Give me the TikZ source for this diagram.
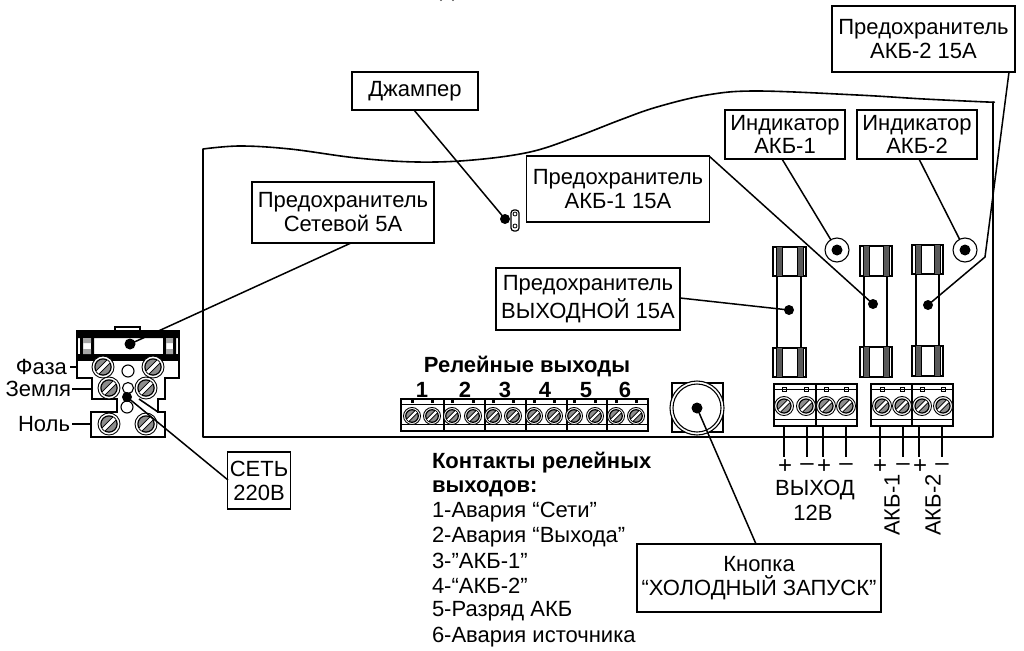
\documentclass[tikz,border=0pt]{standalone}
\usepackage{fontspec}
\setmainfont{Liberation Sans}
\usetikzlibrary{calc}
\newcommand{\fz}[1]{\fontsize{#1}{#1}\selectfont}
\tikzset{
  x=1pt,y=-1pt,
  every node/.style={inner sep=0pt,outer sep=0pt},
  lbl/.style={draw=black,fill=white,line width=1.6pt,align=center,font=\fz{22}},
  txt/.style={font=\fz{22},align=center},
  txtb/.style={font=\bfseries\fz{22}},
  leader/.style={draw=black,line width=1.5pt},
  wire/.style={draw=black,line width=1.5pt},
  outline/.style={draw=black,line width=1.6pt},
  thin1/.style={draw=black,line width=1pt},
  dotn/.style={circle,fill=black,minimum size=#1},
  dotn/.default=11pt,
}
\newcommand{\myscrew}[4][45]{%
  \begin{scope}[shift={(#2,#3)},rotate=#1]
    \draw[line width=.9pt,fill=white] (0,0) circle ({#4});
    \draw[line width=1.2pt,fill=black!45] (0,0) circle ({#4*.74});
    \fill[white] (-#4*.7,-#4*.16) rectangle (#4*.7,#4*.16);
    \draw[line width=.7pt] (-#4*.7,-#4*.2) -- (#4*.7,-#4*.2) (-#4*.7,#4*.2) -- (#4*.7,#4*.2);
  \end{scope}}
\newcommand{\myterm}[4]{% x1 x2 y1 y2
  \draw[outline] (#1,#3) rectangle (#2,#4);
  \draw[thin1] (#1,#3+5) -- (#2,#3+5) (#1,#4-7) -- (#2,#4-7);}
\newcommand{\mycap}[4]{% x1 x2 y1 y2
  \draw[line width=1.4pt] (#1,#3) rectangle (#2,#4);
  \fill[black!65] (#1+3,#3) rectangle (#1+9,#4);
  \fill[black!65] (#2-9,#3) rectangle (#2-3,#4);
  \draw[line width=1pt] (#1+9,#3) -- (#1+9,#4) (#2-9,#3) -- (#2-9,#4) (#1+3,#3) -- (#1+3,#4) (#2-3,#3) -- (#2-3,#4);}
\begin{document}
\begin{tikzpicture}
\useasboundingbox (0,0) rectangle (1024,650);
\fill[white] (0,0) rectangle (1024,650);
\fill[black!70] (441,0) circle (1.2) (453,0) circle (1.2);
% board
\draw[outline,line join=round] (203,437) -- (203,149)
  -- plot[smooth,tension=.6] coordinates {(203,149) (240,146) (290,149) (357,158) (417,162) (473,160) (530,152) (576,137) (620,120) (657,107) (707,95) (757,91) (857,95) (924,99) (987,102) (993,102)}
  -- (993,437) -- cycle;
% fuses
\foreach \xa/\xb/\ba/\bb/\ya/\yb/\yc/\yd in {773/806/777/801/247/276/348/377, 860/892/864/887/246/276/347/377, 912/943/916/939/245/274/346/376}{
  \draw[line width=1.3pt] (\ba,\yb) -- (\ba,\yc) (\bb,\yb) -- (\bb,\yc);
  \mycap{\xa}{\xb}{\ya}{\yb}
  \mycap{\xa}{\xb}{\yc}{\yd}
}
% LEDs
\node[circle,draw=black,line width=1.1pt,minimum size=24pt] (led1) at (837,250) {};
\node[dotn=11pt] (led1c) at (837,250) {};
\node[circle,draw=black,line width=1.1pt,minimum size=24pt] (led2) at (965,250) {};
\node[dotn=11pt] (led2c) at (965,250) {};
% fuse dots
\node[dotn=10pt] (fa) at (789,310) {};
\node[dotn=10pt] (fb) at (873,304) {};
\node[dotn=10pt] (fc) at (928,305) {};
% output wires
\foreach \n/\x in {w1/784,w2/807,w3/823,w4/846,w5/880,w6/903,w7/919,w8/942}{
  \coordinate (\n a) at (\x,426); \coordinate (\n b) at (\x,457);
  \draw[wire] (\n a) -- (\n b);
}
% terminal blocks
\myterm{774}{816}{384}{426}\myterm{816}{857}{384}{426}
\myterm{871}{912}{384}{426}\myterm{912}{953}{384}{426}
\foreach \x in {784,806,826,846,882,902,922,943}{
  \myscrew{\x}{406}{9.5}
  \draw[line width=.8pt] (\x-2,387) rectangle (\x+2,391);
}
% relay block
\myterm{401}{444}{399}{431}\myterm{444}{485}{399}{431}\myterm{485}{526}{399}{431}
\myterm{526}{567}{399}{431}\myterm{567}{607}{399}{431}\myterm{607}{648}{399}{431}
\foreach \x in {412,432,452,473,493,513,534,554,574,595,616,636}{
  \myscrew{\x}{416}{8.5}
  \fill[black] (\x-1.5,399) rectangle (\x+1.5,403);
}
\foreach \x/\n in {422/1,465/2,505/3,545/4,586/5,625/6}{
  \node[txtb] (num\n) at (\x,390) {\n};
}
\node[txtb] (reltitle) at (527,367) {Релейные выходы};
% button
\draw[line width=1.2pt] (672,383) rectangle (723,432);
\draw[line width=1.1pt,fill=white] (697,408) circle (27);
\draw[line width=1.1pt] (697,408) circle (24);
\node[dotn=11pt] (btn) at (697,408) {};
% jumper
\draw[line width=1.2pt,rounded corners=3pt,fill=white] (511,210) rectangle (519,231);
\draw[line width=.8pt] (515,214) circle (2) (515,226) circle (2);
\node[dotn=10pt] (jmp) at (505,219) {};
% mains connector
\draw[outline,fill=white] (77,360) -- (77,378) -- (92,378) -- (92,399) -- (117,399) -- (117,412) -- (91,412) -- (91,437) -- (165,437) -- (165,412) -- (158,412) -- (158,399) -- (165,399) -- (165,378) -- (179,378) -- (179,360) -- cycle;
\draw[outline] (139,399) -- (158,412);
\draw[outline,fill=white] (115,331) -- (115,327) -- (140,327) -- (140,331);
\draw[outline,fill=white] (77,331) rectangle (179,360);
\fill[black] (77,331) rectangle (179,338) (77,354) rectangle (179,360);
\fill[black] (80,331) rectangle (83,360) (173,331) rectangle (176,360) (91,331) rectangle (94,360) (163,331) rectangle (166,360);
\fill[black!35] (83,338) rectangle (91,343) (83,349) rectangle (91,354) (166,338) rectangle (173,343) (166,349) rectangle (173,354);
\myscrew{103}{367}{11}\myscrew{153}{367}{11}
\myscrew{109}{388}{11}\myscrew{146}{388}{11}
\myscrew{109}{424}{11}\myscrew{146}{424}{11}
\draw[line width=1.1pt,fill=white] (128,371) circle (6) (128,388) circle (5.5) (127,407) circle (6);
\node[dotn=10pt] (netdot) at (127,397) {};
\node[dotn=11pt] (mfuse) at (130,344) {};
% side labels
\node[anchor=east,font=\fz{22}] (faza) at (67,367) {Фаза};
\node[anchor=east,font=\fz{22}] (zem) at (71,389) {Земля};
\node[anchor=east,font=\fz{22}] (nol) at (70,424) {Ноль};
\coordinate (fazaE) at (77,367); \coordinate (zemE) at (92,389); \coordinate (nolE) at (91,424);
\draw[wire] ($(faza.east)+(3,0)$) -- (fazaE);
\draw[wire] ($(zem.east)+(1,0)$) -- (zemE);
\draw[wire] ($(nol.east)+(2,0)$) -- (nolE);
% plus and minus, output labels
\foreach \x/\s in {785/+,807/--,824/+,846/--,880/+,903/--,920/+,942/--}{
  \node[font=\fz{24}] at (\x,467) {\s};
}
\node[txt] (vyh) at (815,490) {ВЫХОД};
\node[txt] (v12) at (813,513) {12В};
\node[txt,rotate=90] (ak1) at (892,505) {АКБ-1};
\node[txt,rotate=90] (ak2) at (933,505) {АКБ-2};
% boxes
\node[lbl,minimum width=126pt,minimum height=38pt] (bj) at (415,91) {Джампер};
\node[lbl,minimum width=182pt,minimum height=61pt] (bs) at (343,212.5) {Предохранитель\\[2pt]Сетевой 5А};
\node[lbl,minimum width=183pt,minimum height=66pt] (ba1) at (618,189) {Предохранитель\\[2pt]АКБ-1 15А};
\node[lbl,minimum width=120pt,minimum height=49pt] (bi1) at (785,134.5) {Индикатор\\[1pt]АКБ-1};
\node[lbl,minimum width=120pt,minimum height=49pt] (bi2) at (917,134.5) {Индикатор\\[1pt]АКБ-2};
\node[lbl,minimum width=183pt,minimum height=66pt] (ba2) at (923.5,39) {Предохранитель\\[2pt]АКБ-2 15А};
\node[lbl,minimum width=184pt,minimum height=62pt] (bo) at (588,299) {Предохранитель\\[2pt]ВЫХОДНОЙ 15А};
\node[lbl,minimum width=63pt,minimum height=57pt] (bn) at (259,480.5) {СЕТЬ\\[2pt]220В};
\node[lbl,minimum width=244pt,minimum height=68pt] (bk) at (759,578) {Кнопка\\[2pt]“ХОЛОДНЫЙ ЗАПУСК”};
% leaders
\coordinate (bjP) at (414,110);
\coordinate (bsP) at (351,243);
\coordinate (ba1P) at (709,156);
\coordinate (bi1P) at (782,159);
\coordinate (bi2P) at (919,159);
\coordinate (ba2P) at (1009,72);
\coordinate (kink) at (985,257);
\coordinate (boP) at (680,298);
\coordinate (bnP) at (228,480);
\coordinate (bkP) at (756,544);
\draw[leader] (bjP) -- (jmp.center);
\draw[leader] (bsP) -- (mfuse.center);
\draw[leader] (ba1P) -- (fb.center);
\draw[leader] (bi1P) -- (led1);
\draw[leader] (bi2P) -- (led2);
\draw[leader] (ba2P) -- (kink) -- (fc.center);
\draw[leader] (boP) -- (fa.center);
\draw[leader] (bnP) -- (netdot.center);
\draw[leader] (bkP) -- (btn.center);
% relay contacts list
\node[txtb,anchor=west] (c1) at (432,463) {Контакты релейных};
\node[txtb,anchor=west] (c2) at (432,489) {выходов:};
\node[font=\fz{22},anchor=west] (c3) at (432,512) {1-Авария “Сети”};
\node[font=\fz{22},anchor=west] (c4) at (432,537) {2-Авария “Выхода”};
\node[font=\fz{22},anchor=west] (c5) at (432,561) {3-”АКБ-1”};
\node[font=\fz{22},anchor=west] (c6) at (432,586) {4-“АКБ-2”};
\node[font=\fz{22},anchor=west] (c7) at (432,611) {5-Разряд АКБ};
\node[font=\fz{22},anchor=west] (c8) at (432,637) {6-Авария источника};
\end{tikzpicture}
\end{document}
